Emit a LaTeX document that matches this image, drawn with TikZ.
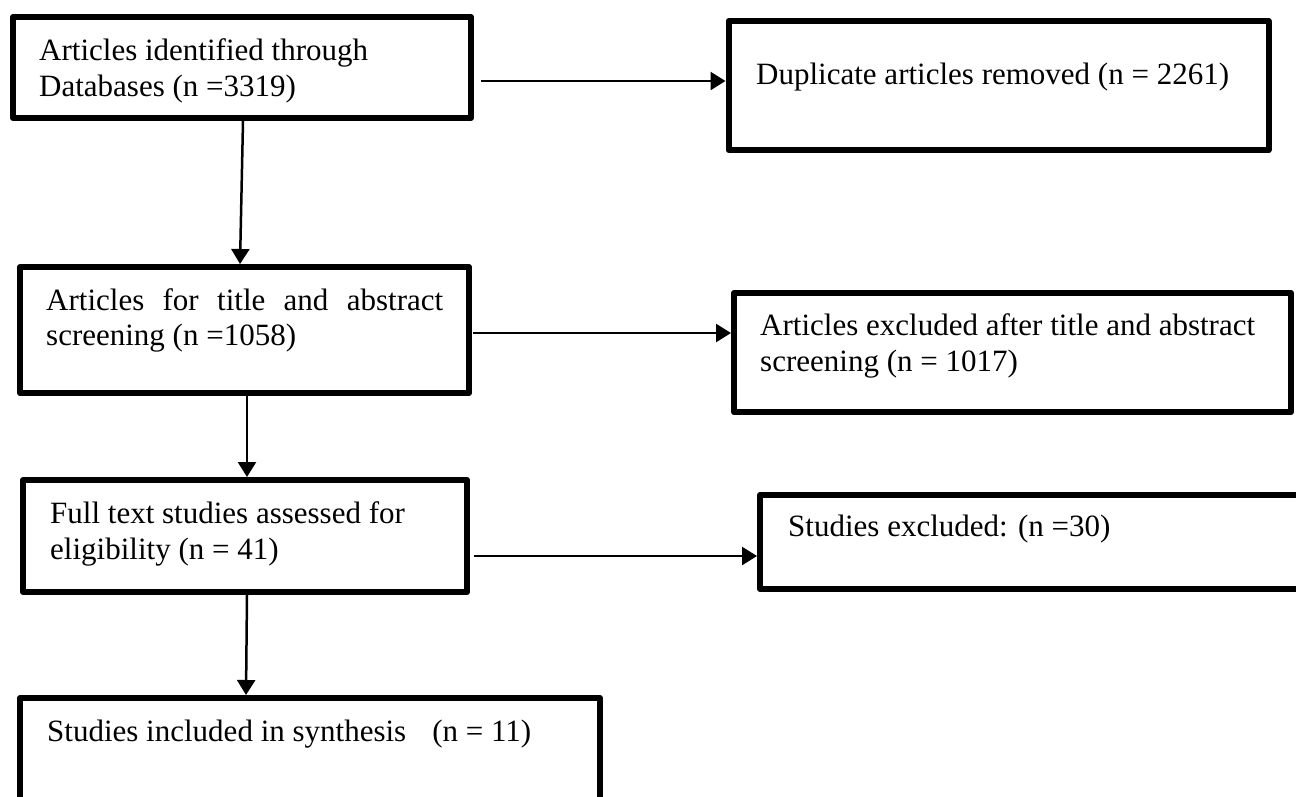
\documentclass[tikz,border=0pt]{standalone}
\usepackage{fontspec}
\setmainfont{Liberation Serif}
\usetikzlibrary{arrows.meta}
\begin{document}
\begin{tikzpicture}[x=1pt,y=-1pt,
  box/.style={draw=black,line width=6pt,line join=round,rectangle,inner sep=0pt},
  txt/.style={anchor=base west,inner sep=0pt,font=\fontsize{31pt}{36pt}\selectfont,align=left},
  arr/.style={line width=2.5pt,-{Triangle[length=15pt,width=18pt]}}]
\clip (0,0) rectangle (1296,796);
\fill[white] (0,0) rectangle (1296,796);
% boxes
\node[box,minimum width=458pt,minimum height=101pt] (A) at (242,67.5) {};
\node[box,minimum width=540pt,minimum height=129pt] (B) at (998.5,85.5) {};
\node[box,minimum width=449pt,minimum height=126pt] (C) at (244.5,330) {};
\node[box,minimum width=557pt,minimum height=119pt] (D) at (1012.5,352.5) {};
\node[box,minimum width=444pt,minimum height=112pt] (E) at (245,536) {};
\node[box,minimum width=560pt,minimum height=94pt] (F) at (1040,542) {};
\node[box,minimum width=580pt,minimum height=132pt] (G) at (310,764) {};
% texts
\node[txt] (At1) at (39,60) {Articles identified through};
\node[txt] (At2) at (39,96) {Databases (n =3319)};
\node[txt] (Bt) at (756,84.5) {Duplicate articles removed (n = 2261)};
\node[txt] (Ct1) at (46,310) {\makebox[397pt][s]{Articles for title and abstract}};
\node[txt] (Ct2) at (46,345) {screening (n =1058)};
\node[txt] (Dt1) at (760,335) {Articles excluded after title and abstract};
\node[txt] (Dt2) at (760,371) {screening (n = 1017)};
\node[txt] (Et1) at (50,523) {Full text studies assessed for};
\node[txt] (Et2) at (50,559) {eligibility (n = 41)};
\node[txt] (Ft) at (788,536) {Studies excluded: (n =30)};
\node[txt] (Gt) at (47,741) {Studies included in synthesis\hspace{26pt}(n = 11)};
% connectors
\draw[arr] ([xshift=7pt,yshift=-13.5pt]A.east) -- ([yshift=4.5pt]B.west);
\draw[arr] ([xshift=1pt,yshift=-3pt]C.east) -- ([yshift=19.5pt]D.west);
\draw[arr] ([xshift=4pt,yshift=-20pt]E.east) -- ([yshift=-14pt]F.west);
\draw[arr] ([xshift=1pt]A.south) -- ([xshift=-4.5pt]C.north);
\draw[arr] ([xshift=2.5pt]C.south) -- ([xshift=2pt]E.north);
\draw[arr] ([xshift=2pt]E.south) -- ([xshift=-64pt]G.north);
\end{tikzpicture}
\end{document}
